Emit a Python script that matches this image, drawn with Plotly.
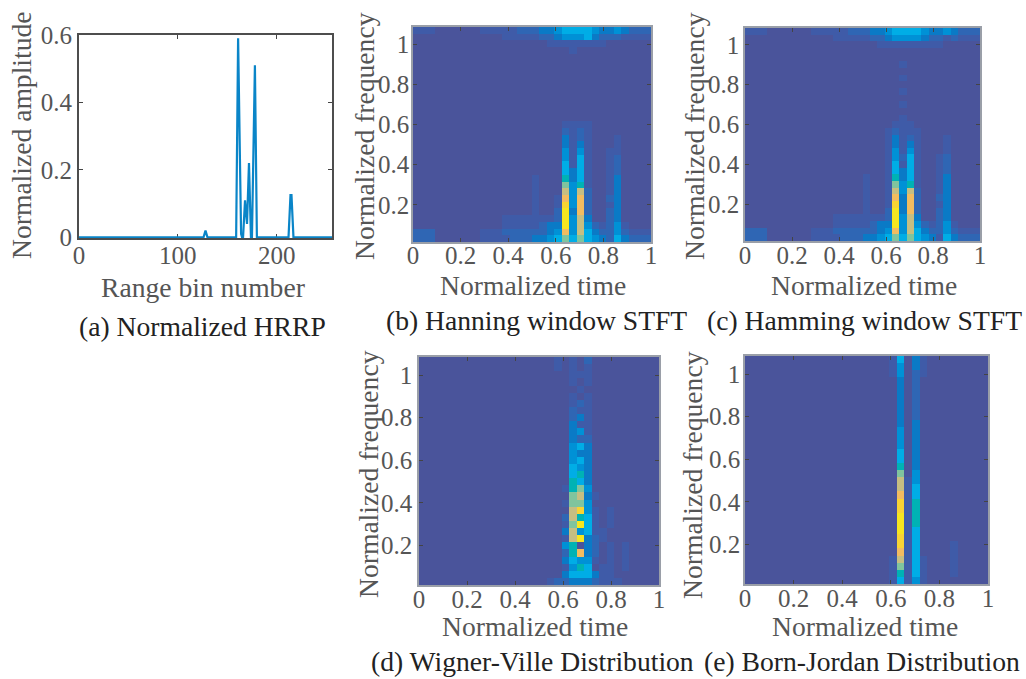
import plotly.graph_objects as go

W, H = 1026, 679
FONT = "Liberation Serif"
GREY = "#555555"
TICK_SIZE = 25
TEXT_SIZE = 27.6

range_bins = [0, 126, 128, 130, 159, 161, 164, 165, 166, 168, 170, 172, 174, 175, 178, 180, 181, 212, 214, 215, 217, 256]
amplitude = [0, 0, .02, 0, 0, .59, .01, 0, 0, .11, .04, .22, 0, 0, .51, 0, 0, 0, .125, .125, 0, 0]

time_ticks = [0, .2, .4, .6, .8, 1]
time_labels = ["0", "0.2", "0.4", "0.6", "0.8", "1"]
freq_ticks = [.2, .4, .6, .8, 1]
freq_labels = ["0.2", "0.4", "0.6", "0.8", "1"]
bin_ticks = [0, 100, 200]
amp_ticks = [0, .2, .4, .6]
amp_labels = ["0", "0.2", "0.4", "0.6"]

# colour levels 0..b, one character per cell, rows listed top to bottom
hanning = [
"1110 0000 0111 1122 2334 5555 4334 3222",
"0000 0000 0000 1111 1223 4445 3222 1111",
"0000 0000 0000 0000 0011 1111 1100 0000",
"0000 0000 0000 0000 0000 0100 0000 0000",
"", "", "", "", "", "", "", "", "", "",
"0000 0000 0000 0000 0000 1111 0000 0000",
"0000 0000 0000 0000 0000 2121 0000 0000",
"0000 0000 0000 0000 0000 3121 0001 0000",
"0000 0000 0000 0000 0000 3131 0001 0000",
"0000 0000 0000 0000 0000 4141 0011 0000",
"0000 0000 0000 0000 0000 4151 0012 0000",
"0000 0000 0000 0000 0000 5151 0012 0000",
"0000 0000 0000 0000 0000 5351 0012 0000",
"0000 0000 0000 0000 1000 6351 0013 0000",
"0000 0000 0000 0000 1000 7461 0013 0000",
"0000 0000 0000 0000 1000 8482 0013 0000",
"0000 0000 0000 0000 1001 9492 0023 0000",
"0000 0000 0000 0000 1001 a492 0013 0000",
"0000 0000 0000 0000 1002 b392 0023 0000",
"0000 0000 0000 1111 1112 b483 0023 0000",
"0000 0000 0000 1111 1233 b484 2124 1000",
"2220 0000 0111 2222 2234 9485 3224 2111",
"2220 0000 0111 1222 3345 7575 4325 3222",
]
hamming = [
"1110 0000 0111 1122 2334 5555 4334 3222",
"0000 0000 0000 1111 1223 4444 3221 2111",
"0000 0000 0000 0000 0011 1111 1110 0000",
"", "",
"0000 0000 0000 0000 0000 0100 0000 0000",
"",
"0000 0000 0000 0000 0000 0100 0000 0000",
"",
"0000 0000 0000 0000 0000 0100 0000 0000",
"",
"0000 0000 0000 0000 0000 0100 0000 0000",
"",
"0000 0000 0000 0000 0000 0100 0000 0000",
"0000 0000 0000 0000 0000 1110 0000 0000",
"0000 0000 0000 0000 0001 2111 0000 0000",
"0000 0000 0000 0000 0001 3121 0001 0000",
"0000 0000 0000 0000 0001 3131 0001 0000",
"0000 0000 0000 0000 0001 4141 0001 0000",
"0000 0000 0000 0000 0001 4251 0012 0000",
"0000 0000 0000 0000 0001 5151 0012 0000",
"0000 0000 0000 0000 0001 5351 0012 0000",
"0000 0000 0000 0000 1001 6351 0013 0000",
"0000 0000 0000 0000 1001 7461 0013 0000",
"0000 0000 0000 0000 1001 8482 0013 0000",
"0000 0000 0000 0000 1001 9392 0023 0000",
"0000 0000 0000 0000 1001 a392 0013 0000",
"0000 0000 0000 0000 1002 b392 0023 0000",
"0000 0000 0000 1111 1112 b483 0023 0000",
"0000 0000 0000 1111 1233 b484 2124 1000",
"2220 0000 0111 2222 2234 9485 3224 2111",
"2220 0000 0111 1222 3345 7575 4315 3222",
]
wigner = [
"0000 0000 0000 0000 0010 1020 0000 0000",
"0000 0000 0000 0000 0010 1010 0000 0000",
"0000 0000 0000 0000 0000 1110 0000 0000",
"0000 0000 0000 0000 0000 1010 0000 0000",
"0000 0000 0000 0000 0000 0100 0000 0000",
"0000 0000 0000 0000 0000 1010 0000 0000",
"0000 0000 0000 0000 0000 1210 0000 0000",
"0000 0000 0000 0000 0000 2110 0000 0000",
"0000 0000 0000 0000 0000 2310 0000 0000",
"0000 0000 0000 0000 0000 3110 0000 0000",
"0000 0000 0000 0000 0000 3410 0000 0000",
"0000 0000 0000 0000 0000 3220 0000 0000",
"0000 0000 0000 0000 0000 4530 0000 0000",
"0000 0000 0000 0000 0000 4330 0000 0000",
"0000 0000 0000 0000 0000 4530 0000 0000",
"0000 0000 0000 0000 0000 5430 0000 0000",
"0000 0000 0000 0000 0000 5630 0000 0000",
"0000 0000 0000 0000 0000 6530 0000 0000",
"0000 0000 0000 0000 0001 6740 0000 0000",
"0000 0000 0000 0000 0000 7831 0000 0000",
"0000 0000 0000 0000 0001 7740 0000 0000",
"0000 0000 0000 0000 0000 8a41 0100 0000",
"0000 0000 0000 0000 0002 8651 0100 0000",
"0000 0000 0000 0000 0001 7b51 0100 0000",
"0000 0000 0000 0000 0003 8451 1000 0000",
"0000 0000 0000 0000 0001 8b32 1000 0000",
"0000 0000 0000 0000 0004 6032 0101 0000",
"0000 0000 0000 0000 0002 6932 0101 0000",
"0000 0000 0000 0000 0003 5441 0101 0000",
"0000 0000 0000 0000 0001 4650 1101 0000",
"0000 0000 0000 0000 0003 5553 1100 0000",
"0000 0000 0000 0000 0122 3332 1110 0000",
]
born_jordan = [
"0000 0000 0000 0000 0001 5031 0000 0000",
"0000 0000 0000 0000 0001 4031 0000 0000",
"0000 0000 0000 0000 0001 4021 0000 0000",
"0000 0000 0000 0000 0000 3020 0000 0000",
"0000 0000 0000 0000 0000 3020 0000 0000",
"0000 0000 0000 0000 0000 3020 0000 0000",
"0000 0000 0000 0000 0000 3020 0000 0000",
"0000 0000 0000 0000 0000 3020 0000 0000",
"0000 0000 0000 0000 0000 3020 0000 0000",
"0000 0000 0000 0000 0000 3030 0000 0000",
"0000 0000 0000 0000 0000 4030 0000 0000",
"0000 0000 0000 0000 0000 4030 0000 0000",
"0000 0000 0000 0000 0000 4030 0000 0000",
"0000 0000 0000 0000 0000 5030 0000 0000",
"0000 0000 0000 0000 0000 5030 0000 0000",
"0000 0000 0000 0000 0000 6030 0000 0000",
"0000 0000 0000 0000 0000 7040 0000 0000",
"0000 0000 0000 0000 0000 8140 0000 0000",
"0000 0000 0000 0000 0000 8150 0000 0000",
"0000 0000 0000 0000 0000 9150 0000 0000",
"0000 0000 0000 0000 0000 a160 0000 0000",
"0000 0000 0000 0000 0000 a160 0000 0000",
"0000 0000 0000 0000 0000 b160 0000 0000",
"0000 0000 0000 0000 0000 b160 0000 0000",
"0000 0000 0000 0000 0000 b150 0000 0000",
"0000 0000 0000 0000 0000 a150 0000 0000",
"0000 0000 0000 0000 0000 a150 0001 0000",
"0000 0000 0000 0000 0000 9150 0001 0000",
"0000 0000 0000 0000 0001 8151 0001 0000",
"0000 0000 0000 0000 0001 7151 0001 0000",
"0000 0000 0000 0000 0001 6151 0001 0000",
"0000 0000 0000 0000 0001 5141 0000 0000",
]

level_colors = ["#4A549B", "#3F5BA8", "#2F66B4", "#0A7AC6", "#0091D6", "#00ADE6",
                "#00B2B4", "#80C49E", "#C6BE82", "#F2BC60", "#F8D434", "#F6E620"]
colorscale = [[i / 11, c] for i, c in enumerate(level_colors)]

captions = ["(a) Normalized HRRP", "(b) Hanning window STFT", "(c) Hamming window STFT",
            "(d) Wigner-Ville Distribution", "(e) Born-Jordan Distribution"]
time_title = "Normalized time"
freq_title = "Normalized frequency"


def to_matrix(rows):
    m = []
    for r in rows[::-1]:
        r = r.replace(" ", "").ljust(32, "0")
        m.append([int(ch, 16) for ch in r])
    return m


fig = go.Figure()


def dom_x(a, b):
    return [a / W, b / W]


def dom_y(top, bottom):
    return [1 - bottom / H, 1 - top / H]


def common_axis(color, lw, standoff):
    return dict(ticks="inside", ticklen=4, tickcolor="#444444", tickwidth=1, showline=True, automargin=False,
                linecolor=color, linewidth=lw, mirror="ticks", showgrid=False, zeroline=False,
                tickfont=dict(family=FONT, size=TICK_SIZE, color=GREY), ticklabelstandoff=standoff)


def note(text, x, y, color, angle=0):
    return dict(text=text, x=x / W, y=1 - y / H, xref="paper", yref="paper", xanchor="center", yanchor="middle",
                textangle=angle, showarrow=False, font=dict(family=FONT, size=TEXT_SIZE, color=color))


layout = dict(width=W, height=H, margin=dict(l=0, r=0, t=0, b=0), paper_bgcolor="white",
              plot_bgcolor="white", showlegend=False, font=dict(family=FONT))

# panel a
fig.add_trace(go.Scatter(x=range_bins, y=amplitude, mode="lines", xaxis="x", yaxis="y",
                         line=dict(color="#0A85C8", width=2.2), cliponaxis=False, hoverinfo="skip"))
layout["xaxis"] = dict(domain=dom_x(79, 332), range=[0, 256], anchor="y", tickvals=bin_ticks, layer="below traces",
                       **common_axis("#4d4d4d", 2, -6))
layout["yaxis"] = dict(domain=dom_y(35, 238), range=[-.002, .6], anchor="x", tickvals=amp_ticks, ticktext=amp_labels,
                       layer="below traces", **common_axis("#4d4d4d", 2, 0))

panels = [
    (hanning, 413, 651, 27, 242, 2, -10, -3),
    (hamming, 745, 980, 28, 241, 3, -9, -1),
    (wigner, 419, 659, 357, 585, 4, -9, 0),
    (born_jordan, 745, 988, 356, 584, 5, -9, -2),
]
for rows, left, right, top, bottom, k, xoff, yoff in panels:
    fig.add_trace(go.Heatmap(z=to_matrix(rows), x0=1 / 64, dx=1 / 32, y0=.015 + 1.07 / 64, dy=1.07 / 32,
                             xaxis=f"x{k}", yaxis=f"y{k}", colorscale=colorscale, zmin=0, zmax=11,
                             showscale=False, hoverinfo="skip"))
    layout[f"xaxis{k}"] = dict(domain=dom_x(left, right), range=[0, 1], anchor=f"y{k}", tickvals=time_ticks,
                               ticktext=time_labels, **common_axis("#9a9fa8", 1.5, xoff))
    layout[f"yaxis{k}"] = dict(domain=dom_y(top, bottom), range=[.015, 1.085], anchor=f"x{k}", tickvals=freq_ticks,
                               ticktext=freq_labels, **common_axis("#9a9fa8", 1.5, yoff))

caption_pos = [(202, 326), (536, 320), (864, 320), (532, 661), (862, 661)]
notes = [note(t, x, y, "#222222") for t, (x, y) in zip(captions, caption_pos)]
notes += [note("Range bin number", 203, 287, GREY)]
notes += [note(time_title, x, y, GREY) for x, y in [(533, 285), (864, 285), (535, 626), (865, 626)]]
notes += [note("Normalized amplitude", 22, 135, GREY, -90)]
notes += [note(freq_title, x, y, GREY, -90) for x, y in [(365, 136), (695, 136), (368, 474), (693, 475)]]
layout["annotations"] = notes
fig.update_layout(**layout)
fig.write_html("out.html", config={"displayModeBar": False},
               post_script="document.body.style.margin='0';document.body.style.overflow='hidden';")
